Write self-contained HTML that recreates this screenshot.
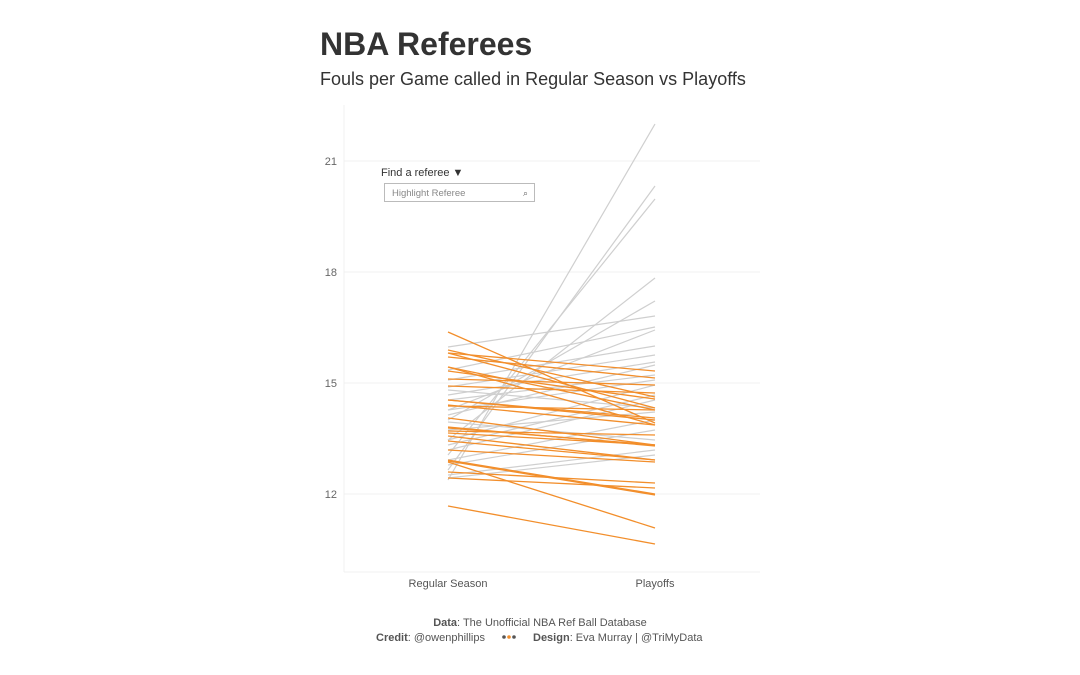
<!DOCTYPE html>
<html><head><meta charset="utf-8"><style>
body{margin:0;background:#fff;width:1080px;height:675px;overflow:hidden;font-family:"Liberation Sans",sans-serif;}
</style></head><body>
<svg width="1080" height="675" xmlns="http://www.w3.org/2000/svg" style="position:absolute;left:0;top:0">
<text x="320" y="55" font-size="32" font-weight="bold" fill="#333">NBA Referees</text>
<text x="320" y="85" font-size="18" fill="#333">Fouls per Game called in Regular Season vs Playoffs</text>
<g stroke="#f0f0f0" stroke-width="1">
<line x1="344" y1="105" x2="344" y2="572"/><line x1="344" y1="572" x2="760" y2="572"/>
<line x1="344" y1="161" x2="760" y2="161"/><line x1="344" y1="272" x2="760" y2="272"/>
<line x1="344" y1="383" x2="760" y2="383"/><line x1="344" y1="494" x2="760" y2="494"/>
</g>
<g font-size="11" fill="#666" text-anchor="end">
<text x="337" y="165">21</text><text x="337" y="276">18</text><text x="337" y="387">15</text><text x="337" y="498">12</text>
</g>
<g font-size="11" fill="#555" text-anchor="middle">
<text x="448" y="587">Regular Season</text><text x="655" y="587">Playoffs</text>
</g>
<text x="381" y="176" font-size="11" fill="#333">Find a referee ▼</text>
<rect x="384.5" y="183.5" width="150" height="18" fill="#fff" stroke="#bbb"/>
<text x="392" y="196" font-size="9.5" fill="#888">Highlight Referee</text>
<text x="523" y="196" font-size="9" fill="#666">⌕</text>
<g stroke="#cfcfcf" stroke-width="1.2">
<line x1="448" y1="480" x2="655" y2="124"/><line x1="448" y1="470" x2="655" y2="186"/>
<line x1="448" y1="455" x2="655" y2="199"/><line x1="448" y1="440" x2="655" y2="278"/>
<line x1="448" y1="420" x2="655" y2="301"/><line x1="448" y1="347" x2="655" y2="316"/>
<line x1="448" y1="370" x2="655" y2="327"/><line x1="448" y1="380" x2="655" y2="346"/>
<line x1="448" y1="387" x2="655" y2="355"/><line x1="448" y1="395" x2="655" y2="362"/>
<line x1="448" y1="400" x2="655" y2="375"/><line x1="448" y1="410" x2="655" y2="380"/>
<line x1="448" y1="415" x2="655" y2="365"/><line x1="448" y1="440" x2="655" y2="385"/>
<line x1="448" y1="445" x2="655" y2="395"/><line x1="448" y1="450" x2="655" y2="400"/>
<line x1="448" y1="430" x2="655" y2="412"/><line x1="448" y1="460" x2="655" y2="420"/>
<line x1="448" y1="465" x2="655" y2="430"/><line x1="448" y1="422" x2="655" y2="440"/>
<line x1="448" y1="475" x2="655" y2="450"/><line x1="448" y1="478" x2="655" y2="455"/>
<line x1="448" y1="390" x2="655" y2="408"/><line x1="448" y1="410" x2="655" y2="330"/>
</g>
<g stroke="#f28e2b" stroke-width="1.3">
<line x1="448" y1="332" x2="655" y2="423"/><line x1="448" y1="353" x2="655" y2="371"/>
<line x1="448" y1="353" x2="655" y2="408"/><line x1="448" y1="357" x2="655" y2="378"/>
<line x1="448" y1="367" x2="655" y2="410"/><line x1="448" y1="367" x2="655" y2="425"/>
<line x1="448" y1="386" x2="655" y2="393"/><line x1="448" y1="400" x2="655" y2="420"/>
<line x1="448" y1="405" x2="655" y2="425"/><line x1="448" y1="406" x2="655" y2="410"/>
<line x1="448" y1="418" x2="655" y2="445"/><line x1="448" y1="427" x2="655" y2="446"/>
<line x1="448" y1="428" x2="655" y2="445"/><line x1="448" y1="431" x2="655" y2="435"/>
<line x1="448" y1="433" x2="655" y2="445"/><line x1="448" y1="436" x2="655" y2="460"/>
<line x1="448" y1="441" x2="655" y2="460"/><line x1="448" y1="450" x2="655" y2="462"/>
<line x1="448" y1="460" x2="655" y2="494"/><line x1="448" y1="461" x2="655" y2="495"/>
<line x1="448" y1="472" x2="655" y2="483"/><line x1="448" y1="478" x2="655" y2="488"/>
<line x1="448" y1="462" x2="655" y2="528"/><line x1="448" y1="506" x2="655" y2="544"/>
<line x1="448" y1="350" x2="655" y2="397"/><line x1="448" y1="371" x2="655" y2="399"/>
<line x1="448" y1="379" x2="655" y2="385"/><line x1="448" y1="400" x2="655" y2="418"/>
</g>
<g font-size="11" fill="#555" text-anchor="middle">
<text x="540" y="626"><tspan font-weight="bold">Data</tspan>: The Unofficial NBA Ref Ball Database</text>
</g>
<g font-size="11" fill="#555">
<text x="376" y="641"><tspan font-weight="bold">Credit</tspan>: @owenphillips</text>
<text x="533" y="641"><tspan font-weight="bold">Design</tspan>: Eva Murray | @TriMyData</text>
</g>
<circle cx="504" cy="637" r="1.8" fill="#555"/><circle cx="509" cy="637" r="1.8" fill="#f28e2b"/><circle cx="514" cy="637" r="1.8" fill="#555"/>
</svg>
</body></html>
